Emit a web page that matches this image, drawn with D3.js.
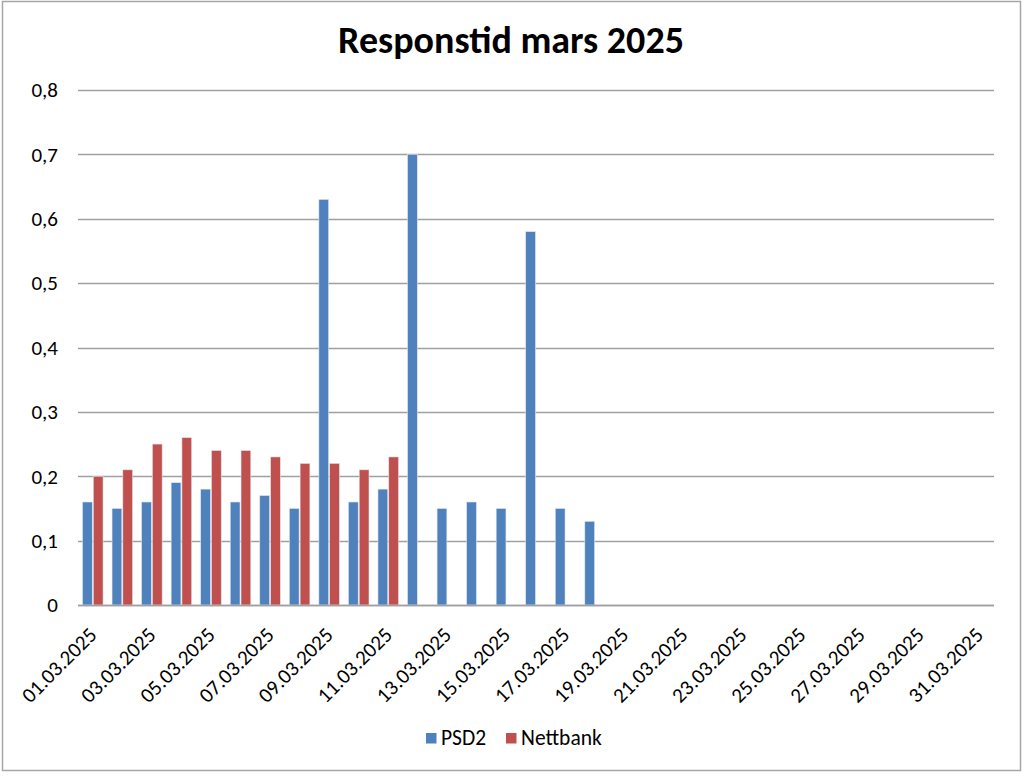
<!DOCTYPE html>
<html><head><meta charset="utf-8">
<script src="https://cdn.jsdelivr.net/npm/d3@7"></script>
<style>
html,body{margin:0;padding:0;background:#fff;}
svg{display:block;font-family:Carlito, Calibri, Lato, "Open Sans", sans-serif;}
</style></head>
<body>
<svg id="c" width="1024" height="776"></svg>
<script>
const dates = ["01.03.2025","02.03.2025","03.03.2025","04.03.2025","05.03.2025","06.03.2025","07.03.2025","08.03.2025","09.03.2025","10.03.2025","11.03.2025","12.03.2025","13.03.2025","14.03.2025","15.03.2025","16.03.2025","17.03.2025","18.03.2025","19.03.2025","20.03.2025","21.03.2025","22.03.2025","23.03.2025","24.03.2025","25.03.2025","26.03.2025","27.03.2025","28.03.2025","29.03.2025","30.03.2025","31.03.2025"];
const psd2 = [0.16,0.15,0.16,0.19,0.18,0.16,0.17,0.15,0.63,0.16,0.18,0.70,0.15,0.16,0.15,0.58,0.15,0.13,null,null,null,null,null,null,null,null,null,null,null,null,null];
const nettbank = [0.20,0.21,0.25,0.26,0.24,0.24,0.23,0.22,0.22,0.21,0.23,null,null,null,null,null,null,null,null,null,null,null,null,null,null,null,null,null,null,null,null];
const seriesNames = ["PSD2","Nettbank"];
const seriesColors = ["#4F81BD","#C0504D"];
const yTicks = [0,0.1,0.2,0.3,0.4,0.5,0.6,0.7,0.8];
const title = "Responstid mars 2025";

(function(){
const svg = d3.select("#c");
svg.append("rect").attr("x",2.5).attr("y",1.5).attr("width",1018).attr("height",769)
  .attr("fill","#fff").attr("stroke","#a6a6a6").attr("stroke-width",1.5);

const pL=78, pR=994, pT=90, pB=605;
const x0 = d3.scaleBand().domain(dates).range([pL,pR]).paddingInner(0.27).paddingOuter(0.135);
const x1 = d3.scaleBand().domain(seriesNames).range([0,x0.bandwidth()]);
const y = d3.scaleLinear().domain([0,0.8]).range([pB,pT]);

svg.append("g").selectAll("line").data(yTicks).join("line")
  .attr("x1",pL).attr("x2",pR)
  .attr("y1",d=>Math.round(y(d))+0.5).attr("y2",d=>Math.round(y(d))+0.5)
  .attr("stroke","#a0a0a0").attr("stroke-width",1.3);

const fmt = d => d===0 ? "0" : d3.format(".1f")(d).replace(".",",");
svg.append("g").selectAll("text").data(yTicks).join("text")
  .attr("x",58).attr("y",d=>y(d)).attr("dy","0.35em").attr("text-anchor","end")
  .attr("font-size",21).attr("fill","#000").text(fmt);

const series = [psd2, nettbank];
seriesNames.forEach((s,si)=>{
  svg.append("g").selectAll("rect").data(dates.map((d,i)=>({d,v:series[si][i]})).filter(e=>e.v!=null))
    .join("rect")
    .attr("x",e=>x0(e.d)+x1(s)+0.5)
    .attr("width",x1.bandwidth()-1)
    .attr("y",e=>y(e.v))
    .attr("height",e=>y(0)-y(e.v))
    .attr("fill",seriesColors[si])
    .attr("stroke","#dfe6f0").attr("stroke-width",0.6);
});

svg.append("line").attr("x1",pL).attr("x2",pR).attr("y1",pB+0.5).attr("y2",pB+0.5)
  .attr("stroke","#a0a0a0").attr("stroke-width",1.3);

svg.append("g").selectAll("text").data(dates.filter((d,i)=>i%2===0)).join("text")
  .attr("transform",d=>`translate(${x0(d)+x0.bandwidth()/2},${pB+26}) rotate(-45)`)
  .attr("text-anchor","end").attr("dy","0.35em")
  .attr("font-size",21).attr("fill","#000").text(d=>d);

svg.append("text").attr("x",511).attr("y",53).attr("text-anchor","middle")
  .attr("font-size",38).attr("font-weight","bold").attr("fill","#000").text(title);

const leg = svg.append("g");
const legX = [426, 506];
seriesNames.forEach((s,i)=>{
  leg.append("rect").attr("x",legX[i]).attr("y",733).attr("width",10.5).attr("height",10.5).attr("fill",seriesColors[i]);
  leg.append("text").attr("x",legX[i]+15).attr("y",745).attr("font-size",21.5).attr("fill","#000").text(s);
});
})();
</script>
</body></html>
